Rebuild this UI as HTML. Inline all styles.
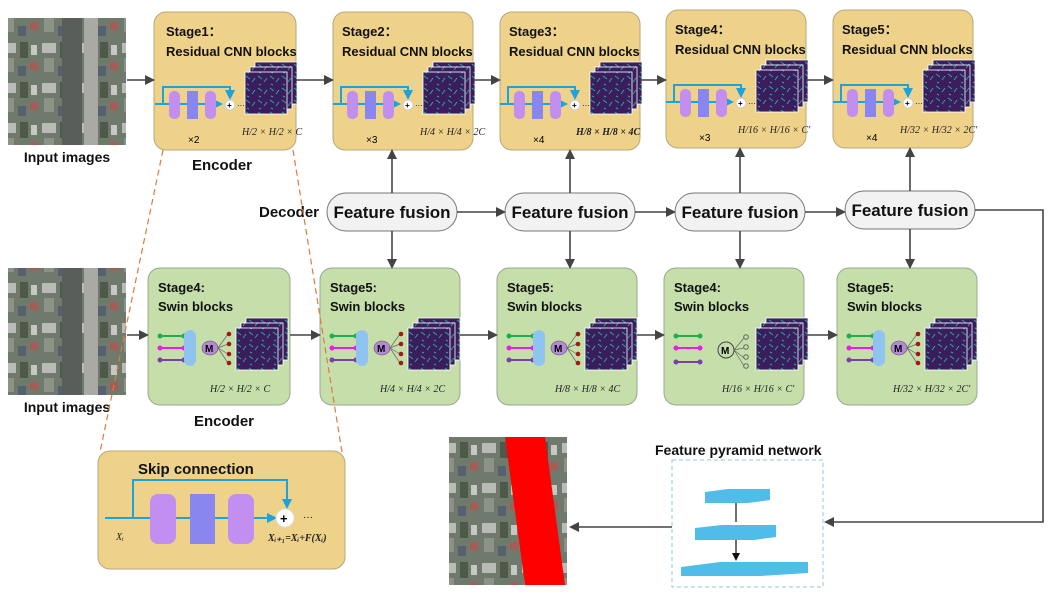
<!DOCTYPE html>
<html><head><meta charset="utf-8"><style>
body{margin:0;background:#fff;}
svg{display:block;font-family:"Liberation Sans",sans-serif;}
.t{font-weight:bold;font-size:13px;fill:#111;}
.b{font-weight:bold;fill:#111;}
.f{font-family:"Liberation Serif",serif;font-style:italic;font-size:10px;fill:#222;}
</style></head><body>
<svg width="1050" height="595" viewBox="0 0 1050 595">
<defs>
<marker id="ar" markerWidth="10" markerHeight="10" refX="8" refY="5" orient="auto" markerUnits="userSpaceOnUse"><path d="M0,0 L10,5 L0,10 z" fill="#444"/></marker>
<marker id="ab" markerWidth="10" markerHeight="10" refX="8" refY="5" orient="auto" markerUnits="userSpaceOnUse"><path d="M0,0 L10,5 L0,10 z" fill="#1aa3dc"/></marker>
<marker id="ak" markerWidth="8" markerHeight="8" refX="6" refY="4" orient="auto" markerUnits="userSpaceOnUse"><path d="M0,0 L8,4 L0,8 z" fill="#111"/></marker>
<pattern id="sat" width="40" height="40" patternUnits="userSpaceOnUse">
<rect width="40" height="40" fill="#6f7a6c"/>
<rect x="2" y="3" width="14" height="10" fill="#b9bcb6"/><rect x="20" y="2" width="8" height="16" fill="#4d5a4a"/>
<rect x="4" y="18" width="10" height="14" fill="#8c9386"/><rect x="30" y="22" width="8" height="8" fill="#a45c55"/>
<rect x="18" y="26" width="8" height="10" fill="#56606f"/><rect x="31" y="5" width="6" height="10" fill="#c4c7c2"/>
</pattern>
<pattern id="fm" width="12" height="12" patternUnits="userSpaceOnUse">
<rect width="12" height="12" fill="#3b1d5e"/><path d="M1,2 l4,3 M7,8 l3,-4 M2,10 l2,1" stroke="#2aa7a0" stroke-width="1"/>
</pattern>
<g id="maps">
<rect x="10" y="0" width="42" height="42" fill="url(#fm)" stroke="#fff" stroke-width="0.8"/>
<rect x="5" y="5" width="42" height="42" fill="url(#fm)" stroke="#fff" stroke-width="0.8"/>
<rect x="0" y="10" width="42" height="42" fill="url(#fm)" stroke="#fff" stroke-width="0.8"/>
</g>
<g id="cnn">
<path d="M0,92 H66" stroke="#1aa3dc" stroke-width="2" marker-end="url(#ab)"/>
<path d="M8,92 V75 H75 V86" stroke="#1aa3dc" stroke-width="2" fill="none" marker-end="url(#ab)"/>
<rect x="14" y="79" width="11" height="28" rx="5" fill="#c28ef0"/>
<rect x="32" y="79" width="11" height="28" fill="#8a86f0"/>
<rect x="50" y="79" width="11" height="28" rx="5" fill="#c28ef0"/>
<circle cx="75" cy="93" r="5" fill="#fff" stroke="#ccc"/><text x="72" y="96" font-size="8" font-weight="bold">+</text>
<text x="82" y="96" font-size="8">···</text>
<use href="#maps" x="90" y="50"/>
</g>
<g id="swin">
<path d="M12,68 H36" stroke-width="2" stroke="#1db04a"/>
<path d="M12,80 H36" stroke="#e81ee8" stroke-width="2"/><path d="M12,92 H36" stroke="#7b3fa8" stroke-width="2"/>
<circle cx="12" cy="68" r="2.5" fill="#1db04a"/><circle cx="36" cy="68" r="2.5" fill="#1db04a"/>
<circle cx="12" cy="80" r="2.5" fill="#e81ee8"/><circle cx="36" cy="80" r="2.5" fill="#e81ee8"/>
<circle cx="12" cy="92" r="2.5" fill="#7b3fa8"/><circle cx="36" cy="92" r="2.5" fill="#7b3fa8"/>
<rect x="36" y="62" width="12" height="36" rx="6" fill="#8fc4f0"/>
<ellipse cx="62" cy="80" rx="8" ry="7" fill="#b888d8" stroke="#555" stroke-width="0.6"/>
<text x="57" y="84" font-size="10" font-weight="bold">M</text>
<path d="M70,80 L80,66 M70,80 L80,76 M70,80 L80,86 M70,80 L80,95" stroke="#666" stroke-width="0.7"/>
<circle cx="81" cy="66" r="2.3" fill="#a01818"/><circle cx="81" cy="76" r="2.3" fill="#a01818"/><circle cx="81" cy="86" r="2.3" fill="#a01818"/><circle cx="81" cy="95" r="2.3" fill="#a01818"/>
<use href="#maps" x="88" y="50"/>
</g>
</defs>

<!-- input images -->
<rect x="8" y="18" width="118" height="127" fill="url(#sat)"/>
<rect x="62" y="18" width="20" height="127" fill="#5a5e5a"/><rect x="84" y="18" width="14" height="127" fill="#a9aaa3"/>
<text x="67" y="162" class="b" style="font-size:14px" text-anchor="middle">Input images</text>
<rect x="8" y="268" width="118" height="127" fill="url(#sat)"/>
<rect x="62" y="268" width="20" height="127" fill="#5a5e5a"/><rect x="84" y="268" width="14" height="127" fill="#a9aaa3"/>
<text x="67" y="412" class="b" style="font-size:14px" text-anchor="middle">Input images</text>

<!-- top stages -->
<g fill="#efd28a" stroke="#b9a77a">
<rect x="154" y="12" width="142" height="138" rx="12"/>
<rect x="333" y="12" width="140" height="138" rx="12"/>
<rect x="500" y="12" width="140" height="138" rx="12"/>
<rect x="666" y="10" width="140" height="138" rx="12"/>
<rect x="833" y="10" width="140" height="138" rx="12"/>
</g>
<use href="#cnn" x="155" y="12"/><use href="#cnn" x="333" y="12"/><use href="#cnn" x="500" y="12"/><use href="#cnn" x="666" y="10"/><use href="#cnn" x="833" y="10"/>
<text class="t" x="166" y="36">Stage1：</text><text class="t" x="166" y="56">Residual CNN  blocks</text>
<text class="t" x="342" y="36">Stage2：</text><text class="t" x="342" y="56">Residual CNN  blocks</text>
<text class="t" x="509" y="36">Stage3：</text><text class="t" x="509" y="56">Residual CNN  blocks</text>
<text class="t" x="675" y="34">Stage4：</text><text class="t" x="675" y="54">Residual CNN  blocks</text>
<text class="t" x="842" y="34">Stage5：</text><text class="t" x="842" y="54">Residual CNN  blocks</text>
<text x="188" y="143" font-size="10">×2</text><text x="366" y="143" font-size="10">×3</text><text x="533" y="143" font-size="10">×4</text><text x="699" y="141" font-size="10">×3</text><text x="866" y="141" font-size="10">×4</text>
<text class="f" x="242" y="135">H/2 × H/2 × C</text>
<text class="f" x="420" y="135">H/4 × H/4 × 2C</text>
<text class="f" x="576" y="135" font-weight="bold">H/8 × H/8 × 4C</text>
<text class="f" x="738" y="133">H/16 × H/16 × C'</text>
<text class="f" x="900" y="133">H/32 × H/32 × 2C'</text>

<!-- bottom stages -->
<g fill="#c6deaa" stroke="#98a890">
<rect x="148" y="268" width="142" height="137" rx="12"/>
<rect x="320" y="268" width="140" height="137" rx="12"/>
<rect x="497" y="268" width="140" height="137" rx="12"/>
<rect x="664" y="268" width="140" height="137" rx="12"/>
<rect x="837" y="268" width="140" height="137" rx="12"/>
</g>
<use href="#swin" x="148" y="268"/><use href="#swin" x="320" y="268"/><use href="#swin" x="497" y="268"/><use href="#swin" x="837" y="268"/>
<g transform="translate(664,268)">
<path d="M12,68 H36" stroke="#1db04a" stroke-width="2"/><path d="M12,80 H36" stroke="#e81ee8" stroke-width="2"/><path d="M12,94 H36" stroke="#7b3fa8" stroke-width="2"/>
<circle cx="12" cy="68" r="2.5" fill="#1db04a"/><circle cx="36" cy="68" r="2.5" fill="#1db04a"/>
<circle cx="12" cy="80" r="2.5" fill="#e81ee8"/><circle cx="36" cy="80" r="2.5" fill="#e81ee8"/>
<circle cx="12" cy="94" r="2.5" fill="#7b3fa8"/><circle cx="36" cy="94" r="2.5" fill="#7b3fa8"/>
<circle cx="62" cy="82" r="8" fill="#c6deaa" stroke="#444"/><text x="57" y="86" font-size="10" font-weight="bold">M</text>
<path d="M70,82 L80,70 M70,82 L80,80 M70,82 L80,90 M70,82 L80,98" stroke="#666" stroke-width="0.7"/>
<circle cx="82" cy="69" r="2.3" fill="none" stroke="#666"/><circle cx="82" cy="79" r="2.3" fill="none" stroke="#666"/><circle cx="82" cy="89" r="2.3" fill="none" stroke="#666"/><circle cx="82" cy="98" r="2.3" fill="none" stroke="#666"/>
<use href="#maps" x="92" y="50"/>
</g>
<text class="t" x="158" y="292">Stage4:</text><text class="t" x="158" y="311">Swin blocks</text>
<text class="t" x="330" y="292">Stage5:</text><text class="t" x="330" y="311">Swin blocks</text>
<text class="t" x="507" y="292">Stage5:</text><text class="t" x="507" y="311">Swin blocks</text>
<text class="t" x="674" y="292">Stage4:</text><text class="t" x="674" y="311">Swin blocks</text>
<text class="t" x="847" y="292">Stage5:</text><text class="t" x="847" y="311">Swin blocks</text>
<text class="f" x="210" y="392">H/2 × H/2 × C</text>
<text class="f" x="380" y="392">H/4 × H/4 × 2C</text>
<text class="f" x="555" y="392">H/8 × H/8 × 4C</text>
<text class="f" x="722" y="392">H/16 × H/16 × C'</text>
<text class="f" x="893" y="392">H/32 × H/32 × 2C'</text>

<text class="b" style="font-size:15px" x="222" y="170" text-anchor="middle">Encoder</text>
<text class="b" style="font-size:15px" x="224" y="426" text-anchor="middle">Encoder</text>
<text class="b" style="font-size:15px" x="289" y="217" text-anchor="middle">Decoder</text>

<!-- feature fusion -->
<g fill="#f2f2f2" stroke="#777">
<rect x="327" y="193" width="130" height="38" rx="19"/>
<rect x="505" y="193" width="130" height="38" rx="19"/>
<rect x="675" y="193" width="130" height="38" rx="19"/>
<rect x="845" y="191" width="130" height="38" rx="19"/>
</g>
<g class="b" style="font-size:17px" text-anchor="middle">
<text x="392" y="218">Feature fusion</text><text x="570" y="218">Feature fusion</text><text x="740" y="218">Feature fusion</text><text x="910" y="216">Feature fusion</text>
</g>

<!-- arrows -->
<g stroke="#444" stroke-width="1.6" fill="none" marker-end="url(#ar)">
<path d="M127,80 H153"/><path d="M296,80 H332"/><path d="M473,80 H499"/><path d="M640,80 H665"/><path d="M806,80 H832"/>
<path d="M457,212 H504"/><path d="M635,212 H674"/><path d="M805,212 H844"/>
<path d="M127,335 H147"/><path d="M290,335 H319"/><path d="M460,335 H496"/><path d="M637,335 H663"/><path d="M804,335 H836"/>
<path d="M392,193 V151"/><path d="M570,193 V151"/><path d="M740,193 V149"/><path d="M910,191 V149"/>
<path d="M392,231 V267"/><path d="M570,231 V267"/><path d="M740,231 V267"/><path d="M910,229 V267"/>
<path d="M975,210 H1043 V522 H826"/>
<path d="M672,527 H571"/>
</g>

<!-- dashed orange -->
<path d="M163,150 L100,452 M293,150 L342,452" stroke="#e07a3a" stroke-dasharray="6,4" stroke-width="1.2"/>

<!-- skip connection box -->
<rect x="98" y="451" width="247" height="118" rx="12" fill="#efd28a" stroke="#b9a77a"/>
<text class="b" style="font-size:15px" x="138" y="474">Skip connection</text>
<path d="M105,518 H275" stroke="#1aa3dc" stroke-width="2" marker-end="url(#ab)"/>
<path d="M133,518 V480 H287 V507" stroke="#1aa3dc" stroke-width="2" fill="none" marker-end="url(#ab)"/>
<rect x="150" y="494" width="26" height="50" rx="8" fill="#c28ef0"/>
<rect x="190" y="494" width="25" height="50" fill="#8a86f0"/>
<rect x="228" y="494" width="26" height="50" rx="8" fill="#c28ef0"/>
<circle cx="285" cy="518" r="9" fill="#fff" stroke="#ddd"/><text x="280" y="523" font-size="13" font-weight="bold">+</text>
<text x="303" y="520" font-size="10">···</text>
<text class="f" x="116" y="540">Xᵢ</text>
<text class="f" x="268" y="541" font-weight="bold" font-size="9">Xᵢ₊₁=Xᵢ+F(Xᵢ)</text>

<!-- output image -->
<rect x="449" y="437" width="118" height="148" fill="url(#sat)"/>
<path d="M505,437 L545,437 L565,585 L525,585 Z" fill="#ff0000"/>

<!-- FPN -->
<text class="b" style="font-size:14px" x="655" y="455">Feature pyramid network</text>
<rect x="672" y="460" width="151" height="127" fill="none" stroke="#8cc8e0" stroke-dasharray="4,3"/>
<path d="M705,492 L728,489 L770,489 L770,500 L748,503 L705,503 Z" fill="#4fbde8"/>
<path d="M695,528 L722,525 L776,525 L776,537 L754,540 L695,540 Z" fill="#4fbde8"/>
<path d="M681,567 L720,562 L808,562 L808,573 L760,576 L681,576 Z" fill="#4fbde8"/>
<path d="M736,503 V522 M736,540 V559" stroke="#111" stroke-width="1.2" marker-end="url(#ak)"/>
</svg>
</body></html>
